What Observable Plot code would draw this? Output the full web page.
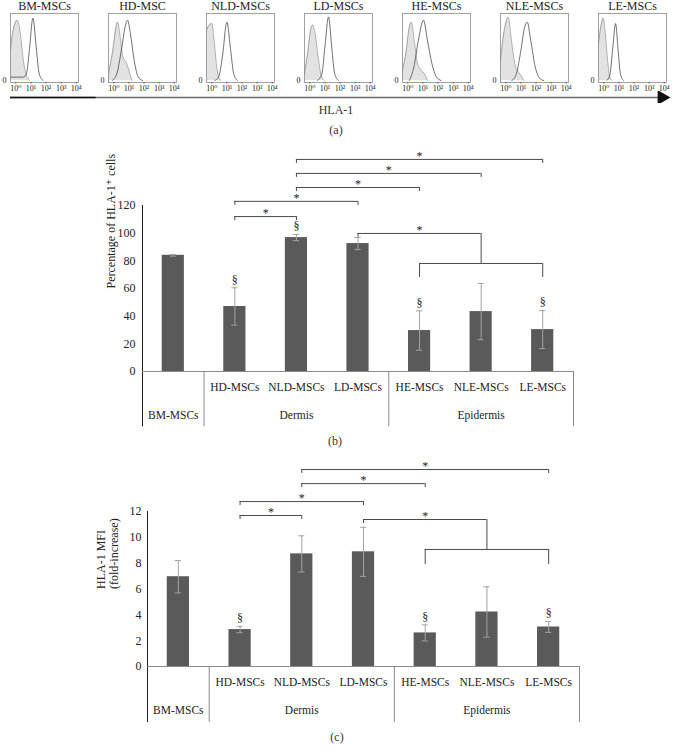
<!DOCTYPE html>
<html>
<head>
<meta charset="utf-8">
<script src="https://cdn.jsdelivr.net/npm/d3@7"></script>
<script src="https://cdn.jsdelivr.net/npm/@observablehq/plot@0.6"></script>
<style>
  body { margin: 0; background: #fff; font-family: "Liberation Serif", "DejaVu Serif", serif; }
  #fig { position: relative; width: 673px; height: 751px; overflow: hidden; background: #fff; }
  #fig svg { position: absolute; left: 0; }
  .lbl { position: absolute; transform: translate(-50%, -50%); font-size: 11px; color: #333; white-space: nowrap; }
</style>
</head>
<body>
<div id="fig"></div>
<script>
// ---------- Panel (a): flow cytometry histograms (log10 fluorescence, relative count) ----------
const samples = ["BM-MSCs", "HD-MSC", "NLD-MSCs", "LD-MSCs", "HE-MSCs", "NLE-MSCs", "LE-MSCs"];
const decades = [0, 1, 2, 3, 4];
const decadeLabels = ["10⁰", "10¹", "10²", "10³", "10⁴"];
const logDomain = [-0.35, 4.15];

// isotype control (grey filled) and HLA-1 (open) curves: [log10 intensity, relative count]
const isoBM  = [[-0.35,0.45],[-0.2,0.72],[0.1,0.9],[0.3,0.7],[0.5,0.3],[0.7,0.08],[0.9,0]];
const hlaBM  = [[-0.35,0.05],[0.5,0.05],[0.7,0.1],[0.9,0.45],[1.13,0.93],[1.35,0.5],[1.55,0.1],[1.8,0]];
const isoHD  = [[-0.35,0.1],[-0.1,0.4],[0.25,0.87],[0.45,0.6],[0.6,0.35],[0.8,0.28],[1.0,0.15],[1.2,0]];
const hlaHD  = [[-0.1,0],[0.2,0.1],[0.5,0.45],[0.75,0.8],[0.91,0.9],[1.1,0.7],[1.35,0.3],[1.6,0.06],[1.9,0]];
const isoNLD = [[-0.35,0.75],[-0.2,0.82],[0.0,0.85],[0.15,0.6],[0.3,0.25],[0.45,0.05],[0.6,0]];
const hlaNLD = [[0.2,0],[0.45,0.05],[0.7,0.35],[1.0,0.87],[1.25,0.45],[1.45,0.1],[1.7,0]];
const isoLD  = [[-0.35,0.1],[-0.15,0.4],[0.05,0.75],[0.18,0.83],[0.35,0.7],[0.55,0.35],[0.75,0.08],[0.95,0]];
const hlaLD  = [[0.5,0],[0.8,0.1],[1.0,0.5],[1.24,0.95],[1.45,0.5],[1.65,0.1],[1.9,0]];
const isoHE  = [[-0.35,0.15],[-0.1,0.45],[0.1,0.8],[0.23,0.87],[0.45,0.55],[0.65,0.25],[0.9,0.15],[1.1,0.1],[1.3,0]];
const hlaHE  = [[0.1,0],[0.4,0.2],[0.7,0.6],[1.04,0.9],[1.3,0.6],[1.6,0.25],[1.9,0.05],[2.2,0]];
const isoNLE = [[-0.35,0.3],[-0.1,0.75],[0.16,0.94],[0.4,0.55],[0.6,0.25],[0.85,0.12],[1.0,0.08],[1.2,0]];
const hlaNLE = [[0.4,0],[0.7,0.1],[1.0,0.45],[1.25,0.8],[1.42,0.87],[1.65,0.6],[1.95,0.2],[2.3,0.02],[2.5,0]];
const isoLE  = [[-0.35,0.55],[-0.2,0.8],[-0.04,0.93],[0.1,0.7],[0.25,0.3],[0.4,0.05],[0.55,0]];
const hlaLE  = [[0.2,0],[0.4,0.08],[0.6,0.5],[0.78,0.85],[0.95,0.45],[1.1,0.1],[1.3,0]];

const isoCurves = [isoBM, isoHD, isoNLD, isoLD, isoHE, isoNLE, isoLE];
const hlaCurves = [hlaBM, hlaHD, hlaNLD, hlaLD, hlaHE, hlaNLE, hlaLE];

// ---------- Panels (b) and (c): bar charts ----------
const categories = ["BM-MSCs", "HD-MSCs", "NLD-MSCs", "LD-MSCs", "HE-MSCs", "NLE-MSCs", "LE-MSCs"];
const groupOf    = ["BM-MSCs", "Dermis", "Dermis", "Dermis", "Epidermis", "Epidermis", "Epidermis"];

const pctMean = [84.0, 47.0, 96.8, 92.5, 29.6, 43.3, 30.3];
const pctSD   = [0.6, 13.5, 2.2, 4.4, 14.2, 20.3, 13.7];
const pctSig  = [false, true, true, false, true, false, true];
const pctPairs  = [["HD-MSCs","NLD-MSCs"], ["HD-MSCs","LD-MSCs"], ["NLD-MSCs","HE-MSCs"], ["NLD-MSCs","NLE-MSCs"], ["NLD-MSCs","LE-MSCs"]];
const pctLevels = [112, 123, 133, 143.2, 153.3];
const pctGroupBracket = {from: "LD-MSCs", to: "Epidermis", top: 99.8, mid: 78.1, low: 68};

const mfiMean = [6.95, 2.86, 8.72, 8.88, 2.60, 4.22, 3.06];
const mfiSD   = [1.25, 0.25, 1.40, 1.90, 0.62, 1.95, 0.42];
const mfiSig  = [false, true, false, false, true, false, true];
const mfiPairs  = [["HD-MSCs","NLD-MSCs"], ["HD-MSCs","LD-MSCs"], ["NLD-MSCs","HE-MSCs"], ["NLD-MSCs","LE-MSCs"]];
const mfiLevels = [11.69, 12.77, 14.16, 15.25];
const mfiGroupBracket = {from: "LD-MSCs", to: "Epidermis", top: 11.38, mid: 9.06, low: 7.9};

const FONT = "'Liberation Serif', 'DejaVu Serif', serif";
const fig = document.getElementById("fig");

function place(el, top) { el.style.top = top + "px"; fig.appendChild(el); }
function label(text, x, y, size) {
  const d = document.createElement("div");
  d.className = "lbl"; d.textContent = text;
  d.style.left = x + "px"; d.style.top = y + "px";
  if (size) d.style.fontSize = size + "px";
  fig.appendChild(d);
}

// ----- Panel (a) -----
const isoRows = samples.flatMap((s, k) => isoCurves[k].map(([l, h]) => ({sample: s, l, h})));
const hlaRows = samples.flatMap((s, k) => hlaCurves[k].map(([l, h]) => ({sample: s, l, h})));

const panelA = Plot.plot({
  width: 673, height: 95,
  marginTop: 13, marginBottom: 13, marginLeft: 7, marginRight: 5,
  style: {fontFamily: FONT, background: "transparent", color: "#222"},
  fx: {domain: samples, paddingInner: 0.31, paddingOuter: 0, axis: null, label: null},
  x: {domain: logDomain, axis: null},
  y: {domain: [-0.03, 1.0], axis: null},
  marks: [
    Plot.areaY(isoRows, {fx: "sample", x: "l", y: "h", fill: "#e2e2e2", curve: "monotone-x"}),
    Plot.lineY(isoRows, {fx: "sample", x: "l", y: "h", stroke: "#777", strokeWidth: 0.6, curve: "monotone-x"}),
    Plot.lineY(hlaRows, {fx: "sample", x: "l", y: "h", stroke: "#333", strokeWidth: 0.7, curve: "monotone-x"}),
    Plot.frame({stroke: "#8a8a8a", strokeWidth: 0.8}),
    Plot.axisX({ticks: decades, tickFormat: d => decadeLabels[d], fontSize: 8, tickSize: 1.5, tickPadding: 1.5, label: null, stroke: "#555"}),
    Plot.text(samples, {fx: d => d, x: () => logDomain[0], y: () => 0, text: () => "0", dx: -4, textAnchor: "end", fontSize: 8}),
    Plot.text(samples, {fx: d => d, text: d => d, frameAnchor: "top", dy: -4, lineAnchor: "bottom", fontSize: 12})
  ]
});
place(panelA, 0);

// arrow under histograms
const arrowPlot = Plot.plot({
  width: 673, height: 12, margin: 0, marginLeft: 10, marginRight: 5,
  style: {background: "transparent"},
  x: {domain: [0, 1], axis: null},
  y: {domain: [-1, 1], axis: null},
  marks: [
    Plot.ruleY([0], {x1: 0, x2: 0.985, stroke: "#6a6a6a", strokeWidth: 1.4}),
    Plot.ruleY([0], {x1: 0, x2: 0.13, stroke: "#111", strokeWidth: 1.4}),
    Plot.dot([0.99], {x: d => d, y: () => 0, symbol: "triangle", rotate: 90, r: 5.5, fill: "#111", stroke: "none"})
  ]
});
place(arrowPlot, 91);
label("HLA-1", 336, 110, 12);
label("(a)", 336, 130, 12);

// ----- bar panels -----
function barPanel(o) {
  const rows = categories.map((c, i) => ({c, i, x: i + 0.5, mean: o.mean[i], lo: o.mean[i] - o.sd[i], hi: o.mean[i] + o.sd[i], sig: o.sig[i]}));
  const pos = c => categories.indexOf(c) + 0.5;
  const br = o.pairs.map(([a, b], k) => ({x1: pos(a), x2: pos(b), y: o.levels[k]}));
  const groups = d3.groups(rows, d => groupOf[d.i]).map(([name, rs]) => ({
    name, x: d3.mean(rs, d => d.x), x0: d3.min(rs, d => d.x) - 0.5, x1: d3.max(rs, d => d.x) + 0.5
  }));
  const inner = rows.filter(d => groupOf[d.i] !== d.c);
  const g = o.group;
  const members = rows.filter(d => groupOf[d.i] === g.to);
  const gx0 = d3.min(members, d => d.x), gx1 = d3.max(members, d => d.x), gxm = (gx0 + gx1) / 2, gfx = pos(g.from);
  const half = 0.18, cap = 0.05;
  const line = {stroke: "#4a4a4a", strokeWidth: 1};
  return Plot.plot({
    width: 673, height: o.height,
    marginTop: o.marginTop, marginBottom: o.marginBottom, marginLeft: o.marginLeft, marginRight: o.marginRight,
    style: {fontFamily: FONT, background: "transparent", color: "#222"},
    x: {domain: [0, categories.length], axis: null},
    y: {domain: [0, o.yMax], axis: null},
    marks: [
      // table below axis
      Plot.ruleX(groups, {x: "x1", y1: () => 0, y2: () => o.tableBottom, stroke: "#8a8a8a"}),
      Plot.ruleX([0], {y1: () => o.tableBottom, y2: () => o.yMax, stroke: "#222"}),
      Plot.ruleY([0], {stroke: "#8a8a8a"}),
      Plot.text(inner, {x: "x", y: () => 0, text: "c", dy: 16, fontSize: 11.5}),
      Plot.text(groups, {x: "x", y: () => 0, text: "name", dy: 44, fontSize: 11.5}),
      // bars and error bars
      Plot.rectY(rows, {x1: d => d.x - half, x2: d => d.x + half, y: "mean", fill: "#5a5a5a"}),
      Plot.ruleX(rows, {x: "x", y1: "lo", y2: "hi", stroke: "#a3a3a3", strokeWidth: 1}),
      Plot.ruleY(rows, {x1: d => d.x - cap, x2: d => d.x + cap, y: "hi", stroke: "#a3a3a3", strokeWidth: 1}),
      Plot.ruleY(rows, {x1: d => d.x - cap, x2: d => d.x + cap, y: "lo", stroke: "#a3a3a3", strokeWidth: 1}),
      Plot.text(rows.filter(d => d.sig), {x: "x", y: "hi", text: () => "§", dy: -8, fontSize: 12}),
      // pairwise brackets
      Plot.ruleY(br, {x1: "x1", x2: "x2", y: "y", ...line}),
      Plot.ruleX(br, {x: "x1", y1: "y", y2: "y", insetBottom: -4, ...line}),
      Plot.ruleX(br, {x: "x2", y1: "y", y2: "y", insetBottom: -4, ...line}),
      Plot.text(br, {x: d => (d.x1 + d.x2) / 2, y: "y", text: () => "*", dy: -3, fontSize: 12}),
      // group bracket
      Plot.ruleY([g], {x1: () => gfx, x2: () => gxm, y: "top", ...line}),
      Plot.ruleX([g], {x: () => gfx, y1: "top", y2: "top", insetBottom: -4, ...line}),
      Plot.ruleX([g], {x: () => gxm, y1: "mid", y2: "top", ...line}),
      Plot.ruleY([g], {x1: () => gx0, x2: () => gx1, y: "mid", ...line}),
      Plot.ruleX([g], {x: () => gx0, y1: "low", y2: "mid", ...line}),
      Plot.ruleX([g], {x: () => gx1, y1: "low", y2: "mid", ...line}),
      Plot.text([g], {x: () => (gfx + gxm) / 2, y: "top", text: () => "*", dy: -3, fontSize: 12}),
      // y axis
      Plot.axisY({ticks: d3.range(0, o.yMax + o.yStep / 2, o.yStep), tickSize: 0, tickPadding: o.tickPadding, fontSize: 12, label: null}),
      Plot.text([o.yLabel], {frameAnchor: "left", y: () => o.yMax / 2, text: d => d, rotate: -90, dx: o.labelDx, fontSize: 12, lineHeight: 1.1})
    ]
  });
}

const panelB = barPanel({
  mean: pctMean, sd: pctSD, sig: pctSig, pairs: pctPairs, levels: pctLevels, group: pctGroupBracket,
  yMax: 120, yStep: 20, tableBottom: -40, yLabel: "Percentage of HLA-1⁺ cells", labelDx: -32, tickPadding: 7,
  height: 290, marginTop: 60, marginBottom: 64, marginLeft: 142, marginRight: 100
});
place(panelB, 145);
label("(b)", 335, 441, 12);

const panelC = barPanel({
  mean: mfiMean, sd: mfiSD, sig: mfiSig, pairs: mfiPairs, levels: mfiLevels, group: mfiGroupBracket,
  yMax: 12, yStep: 2, tableBottom: -4.33, yLabel: "HLA-1 MFI\n(fold-increase)", labelDx: -40, tickPadding: 6,
  height: 275, marginTop: 56, marginBottom: 64, marginLeft: 147, marginRight: 94
});
place(panelC, 455);
label("(c)", 337, 737, 12);
</script>
</body>
</html>
